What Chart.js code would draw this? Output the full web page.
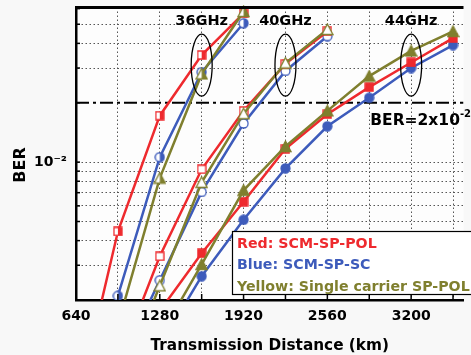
<!DOCTYPE html>
<html><head><meta charset="utf-8">
<script src="https://cdn.jsdelivr.net/npm/chart.js@4/dist/chart.umd.min.js"></script>
<style>html,body{margin:0;padding:0;background:#f8f8f8;} canvas{display:block;}</style>
</head><body>
<canvas id="c" width="471" height="355"></canvas>
<script>
// ---- data ----
const distances = [640, 960, 1280, 1600, 1920, 2240, 2560, 2880, 3200, 3520];
// 36 GHz (half-filled markers)
const red36   = [5.5e-4, 4.45e-3, 1.72e-2, 3.49e-2, 5.67e-2, null, null, null, null, null];
const blue36  = [4.2e-4, 2.1e-3, 1.06e-2, 2.86e-2, 5.06e-2, null, null, null, null, null];
const olive36 = [null, 1.5e-3, 8.3e-3, 2.8e-2, 5.8e-2, null, null, null, null, null];
// 40 GHz (open markers)
const red40   = [null, 9.5e-4, 3.33e-3, 9.2e-3, 1.82e-2, 3.15e-2, 4.6e-2, null, null, null];
const blue40  = [null, 9.0e-4, 2.52e-3, 7.06e-3, 1.57e-2, 2.9e-2, 4.35e-2, null, null, null];
const olive40 = [null, 7.0e-4, 2.36e-3, 7.9e-3, 1.76e-2, 3.18e-2, 4.7e-2, null, null, null];
// 44 GHz (filled markers)
const red44   = [null, null, 1.76e-3, 3.45e-3, 6.3e-3, 1.17e-2, 1.75e-2, 2.4e-2, 3.2e-2, 4.25e-2];
const blue44  = [null, null, 1.17e-3, 2.64e-3, 5.1e-3, 9.3e-3, 1.52e-2, 2.12e-2, 3.0e-2, 3.92e-2];
const olive44 = [null, null, 1.3e-3, 3.03e-3, 7.2e-3, 1.2e-2, 1.82e-2, 2.73e-2, 3.66e-2, 4.6e-2];
const berLimit = 2e-2;
const xTicks = [640, 960, 1280, 1600, 1920, 2240, 2560, 2880, 3200, 3520];
const xLabels = [640, 1280, 1920, 2560, 3200];
const yTicks = [0.002,0.003,0.004,0.005,0.006,0.007,0.008,0.009,0.01,0.02,0.03,0.04,0.05,0.06];
const rateLabels = ['36GHz', '40GHz', '44GHz'];
const rateCenters = [1600, 2240, 3200];
const legendLines = ['Red: SCM-SP-POL', 'Blue: SCM-SP-SC', 'Yellow: Single carrier SP-POL'];

const RED = '#ee2a2e', BLUE = '#3d5bbb', OLIVE = '#7f7f2e';
const FONT = "'DejaVu Sans', Verdana, sans-serif";

function marker(shape, color, mode){
  const s = shape === 'triangle' ? 13 : (shape === 'circle' ? 11 : 10);
  const c = document.createElement('canvas'); c.width = s; c.height = s;
  const g = c.getContext('2d');
  const m = s / 2;
  const path = () => {
    g.beginPath();
    if (shape === 'rect') g.rect(1, 1, s - 2, s - 2);
    else if (shape === 'circle') g.arc(m, m, m - 1, 0, Math.PI * 2);
    else { g.moveTo(m, 1); g.lineTo(s - 1, s - 1.5); g.lineTo(1, s - 1.5); g.closePath(); }
  };
  path(); g.fillStyle = mode === 'full' ? color : '#ffffff'; g.fill();
  if (mode === 'half') { g.save(); g.beginPath(); g.rect(m, 0, m, s); g.clip(); path(); g.fillStyle = color; g.fill(); g.restore(); }
  path(); g.lineWidth = 1.3; g.strokeStyle = color; g.stroke();
  return c;
}

function series(label, vals, color, shape, mode){
  const pts = [];
  vals.forEach((v, i) => { if (v !== null) pts.push({x: distances[i], y: v}); });
  return {
    label, data: pts, borderColor: color, backgroundColor: color, borderWidth: 2.5,
    pointStyle: marker(shape, color, mode), pointRadius: 5, tension: 0,
    clip: {left: 0, right: 0, top: 6, bottom: 0}
  };
}

const datasets = [
  series('Yellow 36GHz', olive36, OLIVE, 'triangle', 'half'),
  series('Yellow 40GHz', olive40, OLIVE, 'triangle', 'open'),
  series('Yellow 44GHz', olive44, OLIVE, 'triangle', 'full'),
  series('Red 36GHz', red36, RED, 'rect', 'half'),
  series('Red 40GHz', red40, RED, 'rect', 'open'),
  series('Red 44GHz', red44, RED, 'rect', 'full'),
  series('Blue 36GHz', blue36, BLUE, 'circle', 'half'),
  series('Blue 40GHz', blue40, BLUE, 'circle', 'open'),
  series('Blue 44GHz', blue44, BLUE, 'circle', 'full'),
  { label: 'BER limit', data: [{x: 640, y: berLimit}, {x: 3600, y: berLimit}],
    borderColor: '#000', borderWidth: 2, borderDash: [13, 4, 3, 4], pointRadius: 0 }
];

const decor = {
  id: 'decor',
  beforeDraw(chart){
    const {ctx, chartArea: a} = chart;
    ctx.save(); ctx.fillStyle = '#fdfdfd';
    ctx.fillRect(a.left, a.top, a.right - a.left, a.bottom - a.top); ctx.restore();
  },
  afterDatasetsDraw(chart){
    const {ctx, chartArea: a, scales: {x, y}} = chart;
    ctx.save();
    // top border
    ctx.strokeStyle = '#000'; ctx.lineWidth = 3;
    ctx.beginPath(); ctx.moveTo(a.left - 1, a.top); ctx.lineTo(a.right, a.top); ctx.stroke();
    // inward ticks
    ctx.lineWidth = 1.5;
    xTicks.forEach(v => { const px = x.getPixelForValue(v); ctx.beginPath(); ctx.moveTo(px, a.bottom); ctx.lineTo(px, a.bottom - 6); ctx.stroke(); });
    yTicks.forEach(v => { const py = y.getPixelForValue(v); ctx.beginPath(); ctx.moveTo(a.left, py); ctx.lineTo(a.left + 4, py); ctx.stroke(); });
    // ellipses
    ctx.lineWidth = 1.3;
    const yc = y.getPixelForValue(3.1e-2);
    rateCenters.forEach(v => {
      ctx.beginPath(); ctx.ellipse(x.getPixelForValue(v), yc, 10.5, 31, 0, 0, Math.PI * 2); ctx.stroke();
    });
    // rate labels
    ctx.fillStyle = '#000'; ctx.font = 'bold 14.5px ' + FONT; ctx.textAlign = 'center'; ctx.textBaseline = 'middle';
    rateLabels.forEach((t, i) => ctx.fillText(t, x.getPixelForValue(rateCenters[i]), a.top + 14));
    // BER = 2x10^-2
    ctx.textAlign = 'left'; ctx.textBaseline = 'alphabetic';
    ctx.font = 'bold 15.5px ' + FONT;
    const bx = x.getPixelForValue(2880) + 1, by = y.getPixelForValue(berLimit) + 22;
    ctx.fillText('BER=2x10', bx, by);
    const w = ctx.measureText('BER=2x10').width;
    ctx.font = 'bold 10px ' + FONT; ctx.fillText('-2', bx + w, by - 8);
    // legend box
    ctx.fillStyle = '#ffffff'; ctx.fillRect(232, 231, 260, 63);
    ctx.strokeStyle = '#000'; ctx.lineWidth = 1.2; ctx.strokeRect(232.5, 231.5, 260, 63);
    ctx.font = 'bold 14.2px ' + FONT; ctx.textBaseline = 'middle';
    [RED, BLUE, OLIVE].forEach((col, i) => { ctx.fillStyle = col; ctx.fillText(legendLines[i], 237, 244 + i * 21.5); });
    // y title
    ctx.fillStyle = '#000'; ctx.font = 'bold 16px ' + FONT; ctx.textAlign = 'center';
    ctx.translate(21, 165); ctx.rotate(-Math.PI / 2); ctx.fillText('BER', 0, 0);
    ctx.restore();
  }
};

new Chart(document.getElementById('c'), {
  type: 'line',
  data: { datasets },
  plugins: [decor],
  options: {
    responsive: false, animation: false, events: [],
    layout: { padding: { top: 6, left: 0, right: 0, bottom: 0 } },
    plugins: { legend: { display: false }, tooltip: { enabled: false } },
    scales: {
      x: {
        type: 'linear', min: 640, max: 3600,
        afterBuildTicks: s => { s.ticks = xTicks.map(v => ({value: v})); },
        afterFit: s => { s.height = 55; s.paddingLeft = 0; s.paddingRight = 0; },
        ticks: { autoSkip: false, maxRotation: 0, padding: 8, color: '#000',
          font: { family: FONT, size: 14, weight: 'bold' },
          callback: v => xLabels.includes(v) ? String(v) : '' },
        grid: { drawTicks: false, color: '#555', lineWidth: 1 },
        border: { color: '#000', width: 2.5, dash: [1.5, 2.5] },
        title: { display: true, text: 'Transmission Distance (km)', color: '#000',
          font: { family: FONT, size: 15.3, weight: 'bold' }, padding: { top: 3, bottom: 0 } }
      },
      y: {
        type: 'logarithmic', min: 0.002, max: 0.0608,
        afterBuildTicks: s => { s.ticks = yTicks.map(v => ({value: v})); },
        afterFit: s => { s.width = 76; s.paddingTop = 0; s.paddingBottom = 0; },
        ticks: { autoSkip: false, padding: 9, color: '#000',
          font: { family: FONT, size: 14, weight: 'bold' },
          callback: v => Math.abs(v - 0.01) < 1e-9 ? '10\u207B\u00B2' : '' },
        grid: { drawTicks: false, lineWidth: 1,
          color: c => (c.tick && Math.abs(c.tick.value - berLimit) < 1e-9) ? 'rgba(0,0,0,0)' : '#555' },
        border: { color: '#000', width: 2.5, dash: [1.5, 2.5] }
      }
    }
  }
});
</script>
</body></html>
